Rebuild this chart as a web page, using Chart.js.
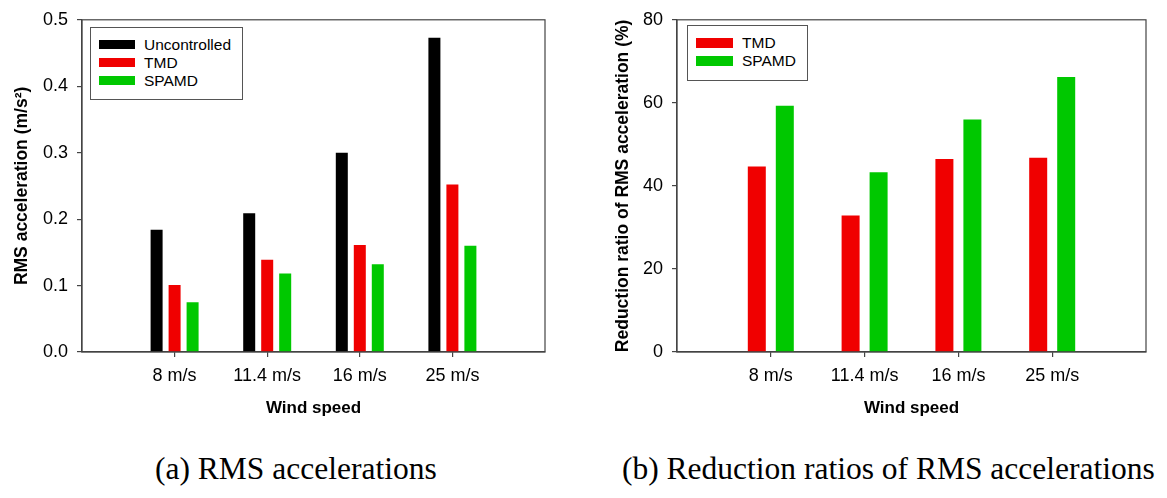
<!DOCTYPE html>
<html>
<head>
<meta charset="utf-8">
<script src="https://cdn.jsdelivr.net/npm/chart.js@4"></script>
<style>
  html, body { margin: 0; padding: 0; background: #fff; }
  body { width: 1167px; height: 498px; position: relative; overflow: hidden; font-family: 'Liberation Sans', Arial, sans-serif; }
  canvas { position: absolute; top: 0; }
  .legend { position: absolute; border: 1px solid #555; box-sizing: border-box; background: #fff; }
  .sw { position: absolute; }
  .lt { position: absolute; font-size: 15.5px; line-height: 18px; color: #000; white-space: nowrap; }
  .cap { position: absolute; font-family: 'Liberation Serif', 'Times New Roman', serif; font-size: 31.5px; line-height: 31px; color: #000; white-space: nowrap; }
</style>
</head>
<body>
<canvas id="c1" width="583" height="440" style="left:0"></canvas>
<canvas id="c2" width="584" height="440" style="left:583px"></canvas>
<div id="lg1" class="legend" style="left:90px;top:27px;width:153px;height:73px"></div>
<div id="lg2" class="legend" style="left:687px;top:25px;width:121px;height:56px"></div>
<div class="cap" style="left:155px;top:453px">(a) RMS accelerations</div>
<div class="cap" style="left:622px;top:453px">(b) Reduction ratios of RMS accelerations</div>
<script>
// ---- data ----
const categories = ['8 m/s', '11.4 m/s', '16 m/s', '25 m/s'];
const rmsUncontrolled = [0.184, 0.209, 0.300, 0.473];
const rmsTMD = [0.101, 0.139, 0.161, 0.252];
const rmsSPAMD = [0.075, 0.118, 0.132, 0.160];
const redTMD = [44.7, 32.9, 46.5, 46.8];
const redSPAMD = [59.3, 43.3, 56.0, 66.2];
const rmsTicks = [0, 0.1, 0.2, 0.3, 0.4, 0.5];
const redTicks = [0, 20, 40, 60, 80];

// ---- styling ----
const BLACK = '#000000', RED = '#f00000', GREEN = '#00c800';
const AXIS = '#444444';
const FONT = 'Liberation Sans';

const pad = arr => [null, ...arr, null];
const labels = ['', ...categories, ''];

const framePlugin = {
  id: 'frame',
  afterDraw(chart) {
    const a = chart.chartArea, ctx = chart.ctx;
    ctx.save();
    ctx.strokeStyle = AXIS;
    ctx.lineWidth = 1.2;
    ctx.strokeRect(a.left, a.top, a.right - a.left, a.bottom - a.top);
    ctx.restore();
  }
};

function makeChart(id, datasets, yTicks, yTitle, opts) {
  return new Chart(document.getElementById(id), {
    type: 'bar',
    data: { labels, datasets },
    plugins: [framePlugin],
    options: {
      responsive: false,
      animation: false,
      devicePixelRatio: 1,
      layout: { padding: { top: opts.top, right: opts.right, left: 0, bottom: 0 } },
      categoryPercentage: opts.cat,
      barPercentage: opts.bar,
      plugins: { legend: { display: false }, tooltip: { enabled: false } },
      scales: {
        x: {
          type: 'category',
          offset: false,
          afterFit(s) { s.height = 88; },
          grid: {
            offset: false,
            drawOnChartArea: false, drawTicks: true, tickLength: 5,
            color: c => (c.index === 0 || c.index === labels.length - 1) ? 'rgba(0,0,0,0)' : AXIS,
            lineWidth: 1.2
          },
          border: { display: true, color: AXIS, width: 1.2 },
          ticks: { color: '#000', font: { family: FONT, size: 18 }, padding: 8, maxRotation: 0, autoSkip: false },
          title: { display: true, text: 'Wind speed', color: '#000', font: { family: FONT, size: 17, weight: 'bold' }, padding: { top: 0, bottom: 21 } }
        },
        y: {
          min: yTicks[0],
          max: yTicks[yTicks.length - 1],
          afterFit(s) { s.width = opts.yw; },
          afterBuildTicks(s) { s.ticks = yTicks.map(v => ({ value: v })); },
          grid: { drawOnChartArea: false, drawTicks: true, tickLength: 5, color: AXIS, lineWidth: 1.2 },
          border: { display: true, color: AXIS, width: 1.2 },
          ticks: {
            color: '#000', font: { family: FONT, size: 18 }, padding: 9,
            callback: v => opts.dec ? Number(v).toFixed(opts.dec) : String(v)
          },
          title: { display: true, text: yTitle, color: '#000', font: { family: FONT, size: 17.5, weight: 'bold' }, padding: { top: opts.tp, bottom: 0 } }
        }
      }
    }
  });
}

const ds1 = [
  { label: 'Uncontrolled', data: pad(rmsUncontrolled), backgroundColor: BLACK },
  { label: 'TMD', data: pad(rmsTMD), backgroundColor: RED },
  { label: 'SPAMD', data: pad(rmsSPAMD), backgroundColor: GREEN }
];
const ds2 = [
  { label: 'TMD', data: pad(redTMD), backgroundColor: RED },
  { label: 'SPAMD', data: pad(redSPAMD), backgroundColor: GREEN }
];

const ch1 = makeChart('c1', ds1, rmsTicks, 'RMS acceleration (m/s\u00B2)',
  { top: 17, right: 38, yw: 82, tp: 12, cat: 0.583, bar: 0.667, dec: 1 });
const ch2 = makeChart('c2', ds2, redTicks, 'Reduction ratio of RMS acceleration (%)',
  { top: 15, right: 21, yw: 94, tp: 30, cat: 0.597, bar: 0.643, dec: 0 });

function buildLegend(elId, chart, sw) {
  const el = document.getElementById(elId);
  chart.data.datasets.forEach((d, i) => {
    const s = document.createElement('div');
    s.className = 'sw';
    s.style.cssText = `left:${sw.x}px;top:${sw.y + i * 18}px;width:${sw.w}px;height:${sw.h}px;background:${d.backgroundColor}`;
    el.appendChild(s);
    const t = document.createElement('div');
    t.className = 'lt';
    t.textContent = d.label;
    t.style.left = sw.tx + 'px';
    t.style.top = (sw.y + i * 18 + sw.h / 2 - 9) + 'px';
    el.appendChild(t);
  });
}
buildLegend('lg1', ch1, { x: 8, y: 12, w: 36, h: 9, tx: 53 });
buildLegend('lg2', ch2, { x: 8, y: 12, w: 37, h: 10, tx: 54 });
</script>
</body>
</html>
